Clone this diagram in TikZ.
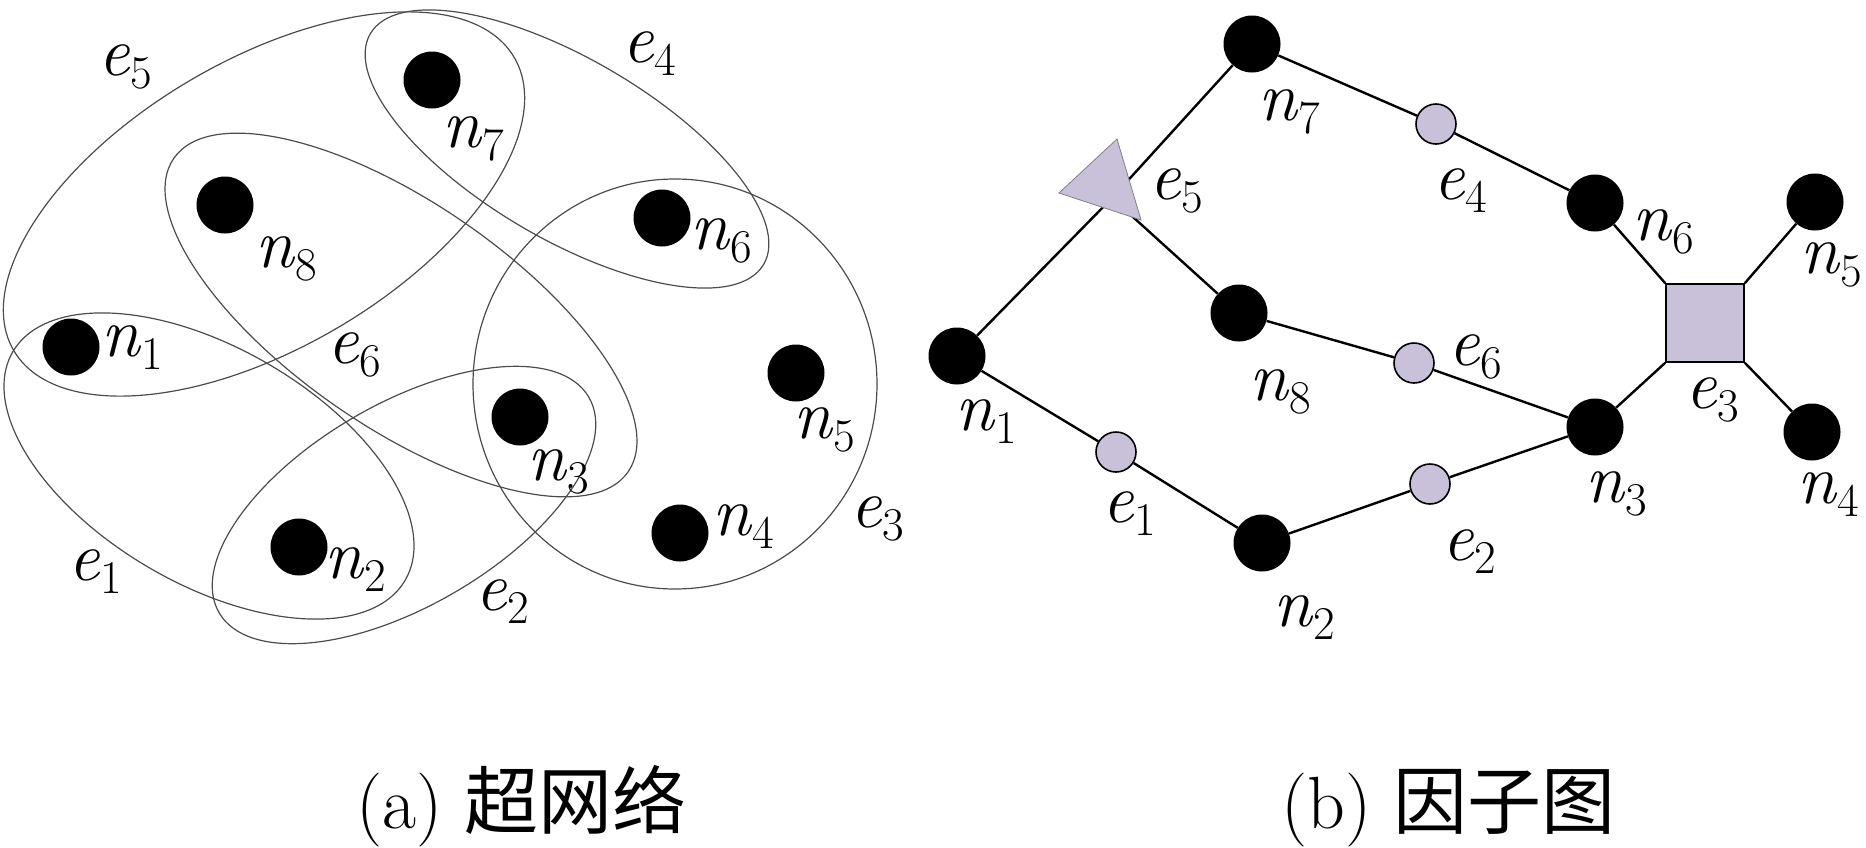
\documentclass[tikz,border=0pt]{standalone}
\usepackage{fontspec}
\newfontfamily\cjkfont{Noto Sans CJK SC}
\usetikzlibrary{backgrounds}
\definecolor{lav}{RGB}{201,193,217}
\newcommand{\sym}[2]{\textit{#1}\raisebox{-13pt}{\fontsize{47}{47}\selectfont #2}}
\begin{document}
\begin{tikzpicture}[x=1pt,y=-1pt,
  bdot/.style={circle,fill=black,inner sep=0pt,minimum size=57pt},
  fnode/.style={circle,draw=black,line width=1.6pt,fill=lav,inner sep=0pt,minimum size=40pt},
  lab/.style={anchor=base west,inner sep=0pt,font=\fontsize{70}{70}\selectfont},
  captext/.style={anchor=base west,inner sep=0pt,font=\fontsize{74}{74}\selectfont},
  hedge/.style={draw=black!70,line width=1.2pt},
  linkline/.style={line width=2.4pt}]
\useasboundingbox (0,0) rectangle (1866,847);
% ---------- (a) hypernetwork ----------
% e5 = {n1,n7,n8}
\draw[hedge, rotate around={30.35:(264,204)}] (264,204) ellipse [x radius=290, y radius=144];
% e4 = {n7,n6}
\draw[hedge, rotate around={-30.4:(567,149)}] (567,149) ellipse [x radius=228, y radius=90];
% e6 = {n8,n3}
\draw[hedge, rotate around={-34.6:(401,315)}] (401,315) ellipse [x radius=276, y radius=112];
% e3 = {n3,n4,n5,n6}
\draw[hedge] (675,384) ellipse [x radius=202, y radius=205];
% e2 = {n2,n3}
\draw[hedge, rotate around={30.25:(404,505)}] (404,505) ellipse [x radius=214, y radius=101];
% e1 = {n1,n2}
\draw[hedge, rotate around={-30.2:(209,466)}] (209,466) ellipse [x radius=227, y radius=118];
\node[bdot] (an7) at (432,80) {};
\node[bdot] (an8) at (225,205) {};
\node[bdot] (an6) at (662,218) {};
\node[bdot] (an1) at (71,347) {};
\node[bdot] (an5) at (796,373) {};
\node[bdot] (an3) at (520,417) {};
\node[bdot] (an4) at (680,533) {};
\node[bdot] (an2) at (299,547) {};
\node[lab] (ln7) at (442,147) {\sym{n}{7}};
\node[lab] (ln8) at (255,267) {\sym{n}{8}};
\node[lab] (ln6) at (690,249) {\sym{n}{6}};
\node[lab] (ln1) at (101,356) {\sym{n}{1}};
\node[lab] (ln5) at (793,438) {\sym{n}{5}};
\node[lab] (ln3) at (527,480) {\sym{n}{3}};
\node[lab] (ln4) at (712,535) {\sym{n}{4}};
\node[lab] (ln2) at (324,578) {\sym{n}{2}};
\node[lab] (le5) at (98,75) {\sym{e}{5}};
\node[lab] (le4) at (622,62) {\sym{e}{4}};
\node[lab] (le6) at (327,363) {\sym{e}{6}};
\node[lab] (le3) at (850,527) {\sym{e}{3}};
\node[lab] (le1) at (68,580) {\sym{e}{1}};
\node[lab] (le2) at (475,610) {\sym{e}{2}};
% ---------- (b) factor graph ----------
\node[bdot] (bn7) at (1252,44) {};
\node[bdot] (bn6) at (1595,203) {};
\node[bdot] (bn5) at (1815,202) {};
\node[bdot] (bn8) at (1239,313) {};
\node[bdot] (bn1) at (957,356) {};
\node[bdot] (bn3) at (1595,427) {};
\node[bdot] (bn4) at (1812,432) {};
\node[bdot] (bn2) at (1262,543) {};
\node[fnode] (be4) at (1436,124) {};
\node[fnode] (be6) at (1414,363) {};
\node[fnode] (be1) at (1116,452) {};
\node[fnode] (be2) at (1430,484) {};
\node[draw=black,line width=1.6pt,fill=lav,inner sep=0pt,minimum size=78pt] (be3) at (1705,323) {};
\coordinate (be5) at (1112,198);
\begin{scope}[on background layer]
\draw[linkline] (bn7) -- (be4) -- (bn6);
\draw[linkline] (bn8) -- (be6) -- (bn3);
\draw[linkline] (bn1) -- (be1) -- (bn2);
\draw[linkline] (bn2) -- (be2) -- (bn3);
\draw[linkline] (bn6) -- (be3.north west);
\draw[linkline] (bn5) -- (be3.north east);
\draw[linkline] (bn3) -- (be3.south west);
\draw[linkline] (bn4) -- (be3.south east);
\draw[linkline] (bn7) -- (be5);
\draw[linkline] (bn1) -- (be5);
\draw[linkline] (bn8) -- (be5);
\end{scope}
\fill[lav, draw=black!50, line width=0.8pt] (1117,139) -- (1059,193) -- (1141,220) -- cycle;
\node[lab] (mn7) at (1258,120) {\sym{n}{7}};
\node[lab] (me5) at (1149,199) {\sym{e}{5}};
\node[lab] (me4) at (1433,199) {\sym{e}{4}};
\node[lab] (mn6) at (1632,240) {\sym{n}{6}};
\node[lab] (mn5) at (1800,273) {\sym{n}{5}};
\node[lab] (mn8) at (1249,400) {\sym{n}{8}};
\node[lab] (me6) at (1448,365) {\sym{e}{6}};
\node[lab] (me3) at (1685,408) {\sym{e}{3}};
\node[lab] (mn3) at (1585,502) {\sym{n}{3}};
\node[lab] (mn4) at (1797,503) {\sym{n}{4}};
\node[lab] (mn1) at (955,430) {\sym{n}{1}};
\node[lab] (me1) at (1102,522) {\sym{e}{1}};
\node[lab] (me2) at (1442,560) {\sym{e}{2}};
\node[lab] (mn2) at (1273,626) {\sym{n}{2}};
% ---------- captions ----------
\node[captext] (capa) at (356,828) {(a) {\cjkfont 超网络}};
\node[captext] (capb) at (1281,828) {(b) {\cjkfont 因子图}};
\end{tikzpicture}
\end{document}
